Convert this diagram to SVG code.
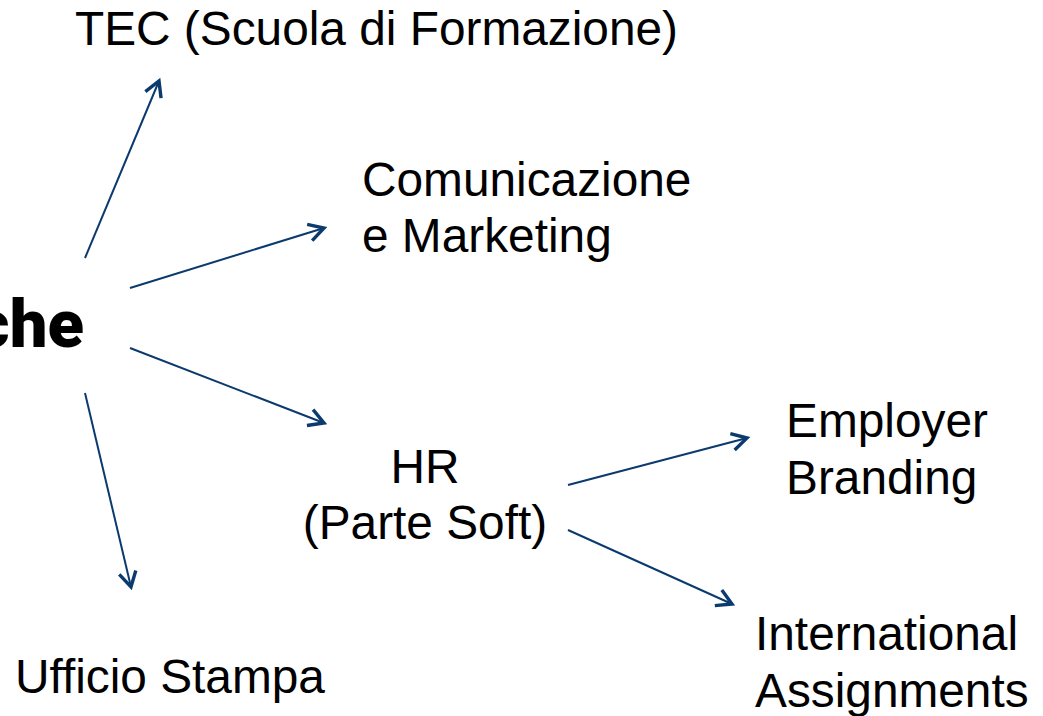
<svg xmlns="http://www.w3.org/2000/svg" width="1043" height="716" viewBox="0 0 1043 716">
<style>
.t{font-family:"Liberation Sans",Arial,sans-serif;font-size:47.8px;fill:#000}
.c{stroke:#0a3a6e;stroke-width:2;fill:none}
.h{font-family:Roboto,"Liberation Sans",sans-serif;font-weight:900;font-size:67px;fill:#000}
</style>
<defs>
<marker id="ah" markerUnits="userSpaceOnUse" markerWidth="30" markerHeight="30" refX="0" refY="0" viewBox="-20 -15 30 30" orient="auto" overflow="visible">
<path d="M-15,-8.5 L0,0 L-15,8.5" fill="none" stroke="#0a3a6e" stroke-width="3.4"/>
</marker>
</defs>
<rect width="1043" height="716" fill="#fff"/>
<g id="connectors">
<line class="c" x1="85" y1="258" x2="159" y2="81" marker-end="url(#ah)"/>
<line class="c" x1="130" y1="288" x2="324" y2="228" marker-end="url(#ah)"/>
<line class="c" x1="130" y1="348" x2="324" y2="423" marker-end="url(#ah)"/>
<line class="c" x1="85" y1="393" x2="131" y2="587" marker-end="url(#ah)"/>
<line class="c" x1="568" y1="485" x2="747" y2="438" marker-end="url(#ah)"/>
<line class="c" x1="568" y1="530" x2="732" y2="604" marker-end="url(#ah)"/>
</g>
<g id="root"><text class="h" x="84" y="347" text-anchor="end">che</text></g>
<g id="tec"><text class="t" x="75" y="45">TEC (Scuola di Formazione)</text></g>
<g id="comunicazione"><text class="t" x="362" y="196">Comunicazione</text><text class="t" x="362" y="252">e Marketing</text></g>
<g id="hr"><text class="t" x="425" y="483" text-anchor="middle">HR</text><text class="t" x="425" y="539" text-anchor="middle">(Parte Soft)</text></g>
<g id="employer"><text class="t" x="786" y="437">Employer</text><text class="t" x="786" y="494">Branding</text></g>
<g id="international"><text class="t" x="755" y="650">International</text><text class="t" x="755" y="707">Assignments</text></g>
<g id="ufficio"><text class="t" x="15" y="693">Ufficio Stampa</text></g>
</svg>
